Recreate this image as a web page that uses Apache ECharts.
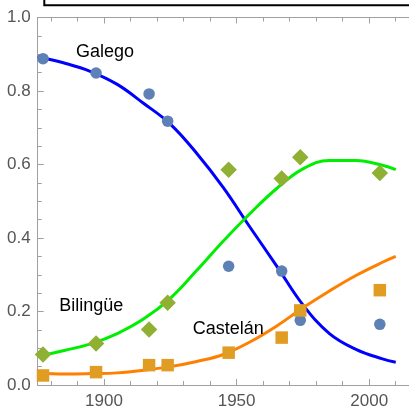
<!DOCTYPE html>
<html>
<head>
<meta charset="utf-8">
<script src="https://cdn.jsdelivr.net/npm/echarts@6/dist/echarts.min.js"></script>
<style>html,body{margin:0;padding:0;background:#fff;}#c{width:409px;height:410px;}</style>
</head>
<body>
<div id="c"></div>
<script>
// Observed data (census years)
var years = [1877, 1897, 1917, 1924, 1947, 1967, 1974, 2004];
var galego = [0.888, 0.849, 0.792, 0.718, 0.323, 0.310, 0.176, 0.165];
var bilingue = [0.083, 0.113, 0.151, 0.224, 0.586, 0.562, 0.620, 0.577];
var castelan = [0.026, 0.035, 0.054, 0.054, 0.088, 0.129, 0.203, 0.258];

// Fitted curves
var fitYears = [1875, 1885, 1895, 1905, 1915, 1925, 1935, 1945, 1955, 1965, 1975, 1985, 1995, 2005, 2010];
var galegoFit = [0.893, 0.876, 0.853, 0.818, 0.766, 0.710, 0.630, 0.537, 0.430, 0.325, 0.218, 0.140, 0.097, 0.071, 0.062];
var bilingueFit = [0.078, 0.094, 0.112, 0.140, 0.180, 0.236, 0.312, 0.392, 0.466, 0.534, 0.588, 0.611, 0.611, 0.598, 0.586];
var castelanFit = [0.032, 0.030, 0.031, 0.033, 0.040, 0.050, 0.064, 0.083, 0.117, 0.160, 0.210, 0.256, 0.298, 0.334, 0.350];

var majorX = [1900, 1950, 2000];
var minorX = [1880, 1890, 1900, 1910, 1920, 1930, 1940, 1950, 1960, 1970, 1980, 1990, 2000, 2010];

function pairs(xs, ys) { return xs.map(function (x, i) { return [x, ys[i]]; }); }

var axisGray = '#a0a0a0';
var labelGray = '#555555';
var fontFam = '"Liberation Sans", Arial, sans-serif';

function xAx(pos, ticks, len, showLine, showLabel) {
  return {
    type: 'value', position: pos, min: 1875, max: 2015,
    axisLine: { show: showLine, lineStyle: { color: axisGray, width: 1 } },
    axisTick: { show: true, inside: true, length: len, customValues: ticks, lineStyle: { color: axisGray, width: 1 } },
    axisLabel: { show: showLabel, customValues: ticks, fontSize: 17, color: labelGray, margin: 8, fontFamily: fontFam,
      formatter: function (v) { return String(Math.round(v)); } },
    splitLine: { show: false }
  };
}

var chart = echarts.init(document.getElementById('c'), null, { renderer: 'canvas' });
chart.setOption({
  animation: false,
  backgroundColor: '#ffffff',
  grid: { left: 37.7, right: -3.3, top: 17.5, bottom: 24.7, containLabel: false },
  xAxis: [
    xAx('bottom', majorX, 6, true, true),
    xAx('bottom', minorX, 4, false, false),
    xAx('top', majorX, 6, true, false),
    xAx('top', minorX, 4, false, false)
  ],
  yAxis: [{
    type: 'value', min: 0, max: 1, interval: 0.2,
    axisLine: { show: true, lineStyle: { color: axisGray, width: 1 } },
    axisTick: { show: true, inside: true, length: 6, lineStyle: { color: axisGray } },
    minorTick: { show: true, splitNumber: 4, length: 4, lineStyle: { color: axisGray } },
    axisLabel: { fontSize: 17, color: labelGray, margin: 7, fontFamily: fontFam, formatter: function (v) { return v.toFixed(1); } },
    splitLine: { show: false }
  }],
  series: [
    { type: 'line', data: pairs(fitYears, galegoFit), showSymbol: false, smooth: 0.4, lineStyle: { color: '#0000ff', width: 3 }, z: 2, silent: true },
    { type: 'line', data: pairs(fitYears, bilingueFit), showSymbol: false, smooth: 0.4, lineStyle: { color: '#00ee00', width: 3 }, z: 2, silent: true },
    { type: 'line', data: pairs(fitYears, castelanFit), showSymbol: false, smooth: 0.4, lineStyle: { color: '#ff7f00', width: 3 }, z: 2, silent: true },
    { type: 'scatter', data: pairs(years, galego), symbol: 'circle', symbolSize: 11.5, itemStyle: { color: '#5e81b5', opacity: 1 }, z: 3 },
    { type: 'scatter', data: pairs(years, bilingue), symbol: 'diamond', symbolSize: 16.5, itemStyle: { color: '#8fb032', opacity: 1 }, z: 3 },
    { type: 'scatter', data: pairs(years, castelan), symbol: 'rect', symbolSize: 12.5, itemStyle: { color: '#e19c24', opacity: 1 }, z: 4 }
  ],
  graphic: [
    { type: 'rect', shape: { x: 44.3, y: -30, width: 420, height: 35.2 }, style: { fill: 'none', stroke: '#000000', lineWidth: 2 }, z: 10 },
    { type: 'text', x: 76, y: 52, style: { text: 'Galego', fontSize: 18, fontFamily: fontFam, fill: '#000', verticalAlign: 'middle', align: 'left' }, z: 10 },
    { type: 'text', x: 59.3, y: 306, style: { text: 'Bilingüe', fontSize: 18, fontFamily: fontFam, fill: '#000', verticalAlign: 'middle', align: 'left' }, z: 10 },
    { type: 'text', x: 192.7, y: 329, style: { text: 'Castelán', fontSize: 18, fontFamily: fontFam, fill: '#000', verticalAlign: 'middle', align: 'left' }, z: 10 }
  ]
});
</script>
</body>
</html>
